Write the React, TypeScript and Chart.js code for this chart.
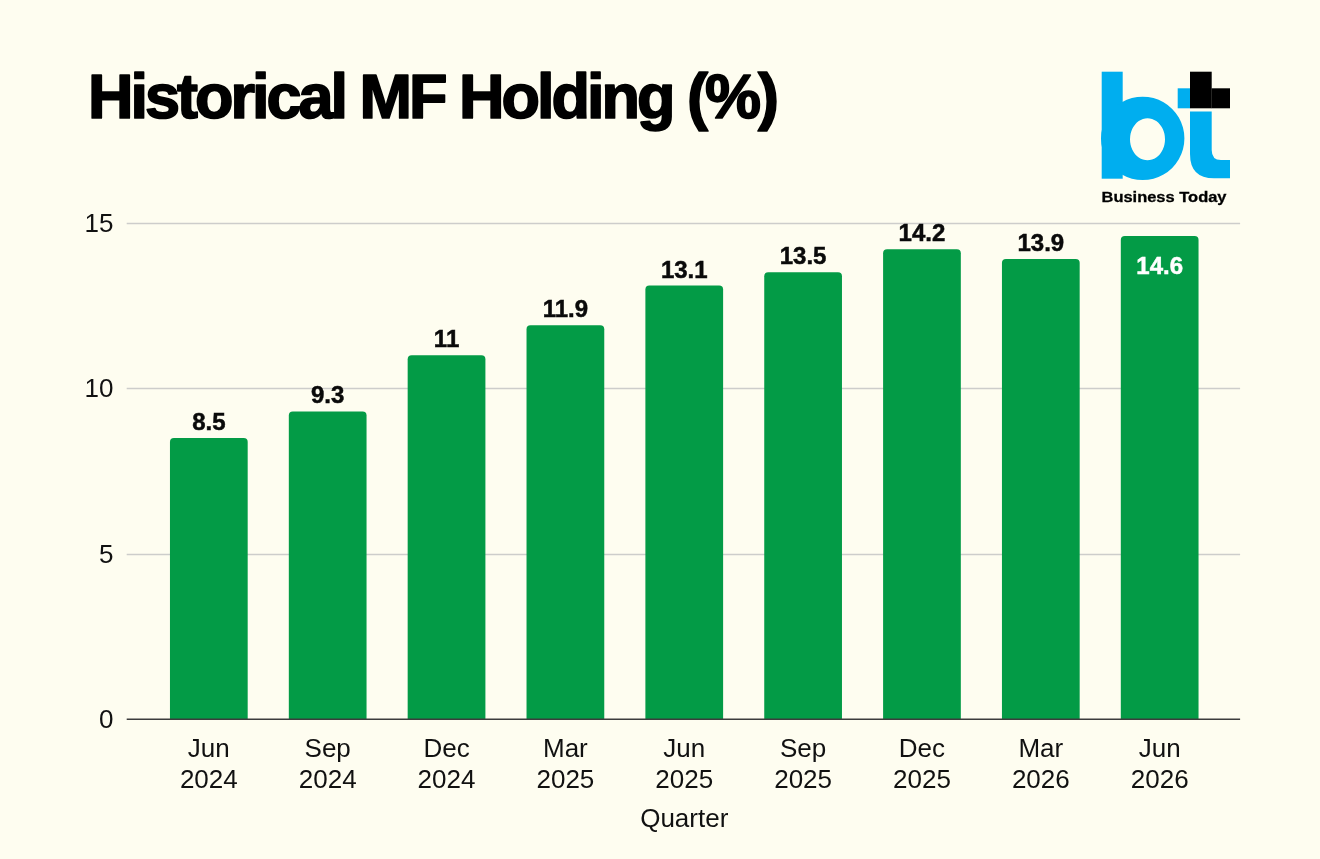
import React, { useEffect, useRef } from "react";
import { Chart, registerables } from "chart.js";

Chart.register(...registerables);

// ---- data ----
const quarterMonths = ["Jun", "Sep", "Dec", "Mar", "Jun", "Sep", "Dec", "Mar", "Jun"];
const quarterYears = ["2024", "2024", "2024", "2025", "2025", "2025", "2025", "2026", "2026"];
const mfHolding = [8.5, 9.3, 11, 11.9, 13.1, 13.5, 14.2, 13.9, 14.6];
const yMin = 0;
const yMax = 15;
const yStep = 5;
const chartTitle = "Historical MF Holding (%)";
const xAxisTitle = "Quarter";
const brandName = "Business Today";

const BG = "#FEFDF0";
const GREEN = "#039B46";
const FONT = '"Liberation Sans", Arial, Helvetica, sans-serif';

const gridPlugin = {
  id: "extendedGrid",
  beforeDatasetsDraw(chart: any) {
    const { ctx, chartArea } = chart;
    const ys = chart.scales.y;
    ctx.save();
    ys.ticks.forEach((t: any) => {
      if (t.value === 0) return;
      const y = Math.round(ys.getPixelForValue(t.value)) + 0.5;
      ctx.strokeStyle = "#CDCDCB";
      ctx.lineWidth = 1.6;
      ctx.beginPath();
      ctx.moveTo(chartArea.left - 22.7, y);
      ctx.lineTo(chartArea.right + 21, y);
      ctx.stroke();
    });
    ctx.restore();
  },
  afterDatasetsDraw(chart: any) {
    const { ctx, chartArea } = chart;
    const ys = chart.scales.y;
    ctx.save();
    const y0 = ys.getPixelForValue(0);
    ctx.strokeStyle = "#3C3C3C";
    ctx.lineWidth = 1.6;
    ctx.beginPath();
    ctx.moveTo(chartArea.left - 22.7, y0);
    ctx.lineTo(chartArea.right + 21, y0);
    ctx.stroke();

    // value labels
    const meta = chart.getDatasetMeta(0);
    ctx.font = `bold 24px ${FONT}`;
    ctx.textAlign = "center";
    ctx.textBaseline = "alphabetic";
    ctx.lineWidth = 0.5;
    meta.data.forEach((bar: any, i: number) => {
      const v = chart.data.datasets[0].data[i];
      const txt = String(v);
      const outsideTop = bar.y - 8 - 17;
      if (outsideTop < chartArea.top - 4) {
        ctx.fillStyle = "#FFFFFF";
        ctx.strokeStyle = "#FFFFFF";
        ctx.fillText(txt, bar.x, bar.y + 38.5);
        ctx.strokeText(txt, bar.x, bar.y + 38.5);
      } else {
        ctx.fillStyle = "#0A0A0A";
        ctx.strokeStyle = "#0A0A0A";
        ctx.fillText(txt, bar.x, bar.y - 8);
        ctx.strokeText(txt, bar.x, bar.y - 8);
      }
    });
    ctx.restore();
  },
};

function ChartCanvas() {
  const ref = useRef<HTMLCanvasElement | null>(null);
  useEffect(() => {
    if (!ref.current) return;
    const chart = new Chart(ref.current, {
      type: "bar",
      data: {
        labels: quarterMonths.map((m, i) => [m, quarterYears[i]]),
        datasets: [
          {
            data: mfHolding,
            backgroundColor: GREEN,
            borderRadius: 4,
            borderSkipped: "start",
            barPercentage: 0.654,
            categoryPercentage: 1,
          },
        ],
      },
      options: {
        responsive: false,
        animation: false,
        layout: { padding: { top: 222.7, right: 100.9, bottom: 0, left: 0 } },
        plugins: {
          legend: { display: false },
          tooltip: { enabled: false },
          title: { display: false },
        },
        scales: {
          x: {
            offset: true,
            grid: { display: false, drawTicks: false },
            border: { display: false },
            ticks: {
              color: "#111111",
              font: { family: FONT, size: 26 },
              padding: 15,
              maxRotation: 0,
              autoSkip: false,
            },
            title: {
              display: true,
              text: xAxisTitle,
              color: "#111111",
              font: { family: FONT, size: 26 },
              padding: { top: 0, bottom: 24 },
            },
            afterFit(scale: any) {
              scale.height = 859 - 719.3;
            },
          },
          y: {
            min: yMin,
            max: yMax,
            grid: { display: false, drawTicks: false },
            border: { display: false },
            ticks: {
              stepSize: yStep,
              color: "#111111",
              font: { family: FONT, size: 26 },
              padding: 36,
              labelOffset: 2,
            },
            afterFit(scale: any) {
              scale.width = 149.4;
            },
          },
        },
      },
      plugins: [gridPlugin],
    });
    return () => chart.destroy();
  }, []);
  return (
    <canvas
      ref={ref}
      width={1320}
      height={859}
      style={{ position: "absolute", left: 0, top: 0, width: 1320, height: 859 }}
    />
  );
}

function Overlay() {
  const BLUE = "#00AEEF";
  return (
    <svg
      width={1320}
      height={859}
      style={{ position: "absolute", left: 0, top: 0, pointerEvents: "none" }}
    >
      <text
        x={88}
        y={118}
        fontFamily={FONT}
        fontWeight="bold"
        fontSize={63}
        fill="#000"
        stroke="#000"
        strokeWidth={1.7}
        strokeLinejoin="round"
        textLength={691}
        lengthAdjust="spacing"
      >
        {chartTitle}
      </text>
      {/* logo: b */}
      <rect x={1101.7} y={71.7} width={21} height={107} fill={BLUE} />
      <path
        fillRule="evenodd"
        fill={BLUE}
        d="M1142.7,96.7 a41.7,41.7 0 1,1 -0.01,0 Z M1147.5,118.3 a17.5,21 0 1,0 0.01,0 Z"
      />
      {/* logo: t */}
      <rect x={1177.7} y={88.3} width={12.5} height={20} fill={BLUE} />
      <path
        fill={BLUE}
        d="M1190,111.5 H1211.7 V150 Q1211.7,160 1221,160 H1230 V178.3 H1214 Q1190,178.3 1190,154 Z"
      />
      <rect x={1190} y={71.7} width={21.7} height={36.6} fill="#000" />
      <rect x={1211.5} y={88.3} width={18.5} height={20} fill="#000" />
      <text
        x={1101.5}
        y={202}
        fontFamily={FONT}
        fontWeight="bold"
        fontSize={14.5}
        fill="#000"
        stroke="#000"
        strokeWidth={0.3}
        textLength={125}
        lengthAdjust="spacingAndGlyphs"
      >
        {brandName}
      </text>
    </svg>
  );
}

export default function App() {
  return (
    <div
      style={{
        position: "fixed",
        left: 0,
        top: 0,
        width: 1320,
        height: 859,
        background: BG,
        overflow: "hidden",
      }}
    >
      <ChartCanvas />
      <Overlay />
    </div>
  );
}
